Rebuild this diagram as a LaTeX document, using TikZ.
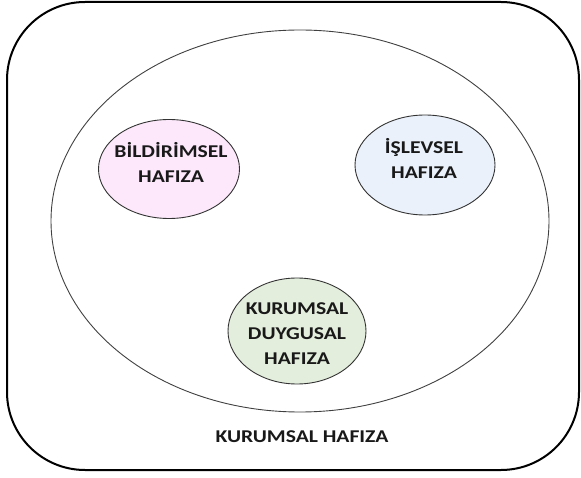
\documentclass[tikz,border=0pt]{standalone}
\usepackage{fontspec}
\setmainfont{Carlito}
\usetikzlibrary{shapes.geometric}
% bold label text, stretched a little sideways
\newcommand{\wlabel}[1]{\scalebox{1.2}[1]{#1}}
\begin{document}
\begin{tikzpicture}[x=1pt,y=-1pt,
  frame/.style={draw=black,line width=2pt,rounded corners=78pt},
  bigoval/.style={draw=black!75,line width=0.9pt},
  memory/.style={ellipse,draw=black!80,line width=0.9pt,inner sep=0pt},
  memtext/.style={font=\bfseries\fontsize{18}{25}\selectfont,align=center,text=black!90},
  caption/.style={font=\bfseries\fontsize{18}{20}\selectfont,text=black!90}]
\useasboundingbox (0,0) rectangle (581,478);
% outer frame
\draw[frame] (7,2) rectangle (579,470);
% big enclosing ellipse
\draw[bigoval] (300,221) ellipse [x radius=249, y radius=191];
% memory types
\node[memory,fill={rgb,255:red,252;green,232;blue,250},minimum width=141pt,minimum height=99pt] (bild) at (169,169) {};
\node[memory,fill={rgb,255:red,234;green,241;blue,250},minimum width=140pt,minimum height=100pt] (isl) at (425,165) {};
\node[memory,fill={rgb,255:red,228;green,238;blue,221},minimum width=138pt,minimum height=106pt] (kdh) at (297,331) {};
\node[memtext] (bildt) at (171,162) {\wlabel{BİLDİRİMSEL}\\\wlabel{HAFIZA}};
\node[memtext] (islt) at (424,158) {\wlabel{İŞLEVSEL}\\\wlabel{HAFIZA}};
\node[memtext] (kdht) at (297,334) {\wlabel{KURUMSAL}\\\wlabel{DUYGUSAL}\\\wlabel{HAFIZA}};
\node[caption] (kh) at (302,437) {\wlabel{KURUMSAL HAFIZA}};
\end{tikzpicture}
\end{document}
